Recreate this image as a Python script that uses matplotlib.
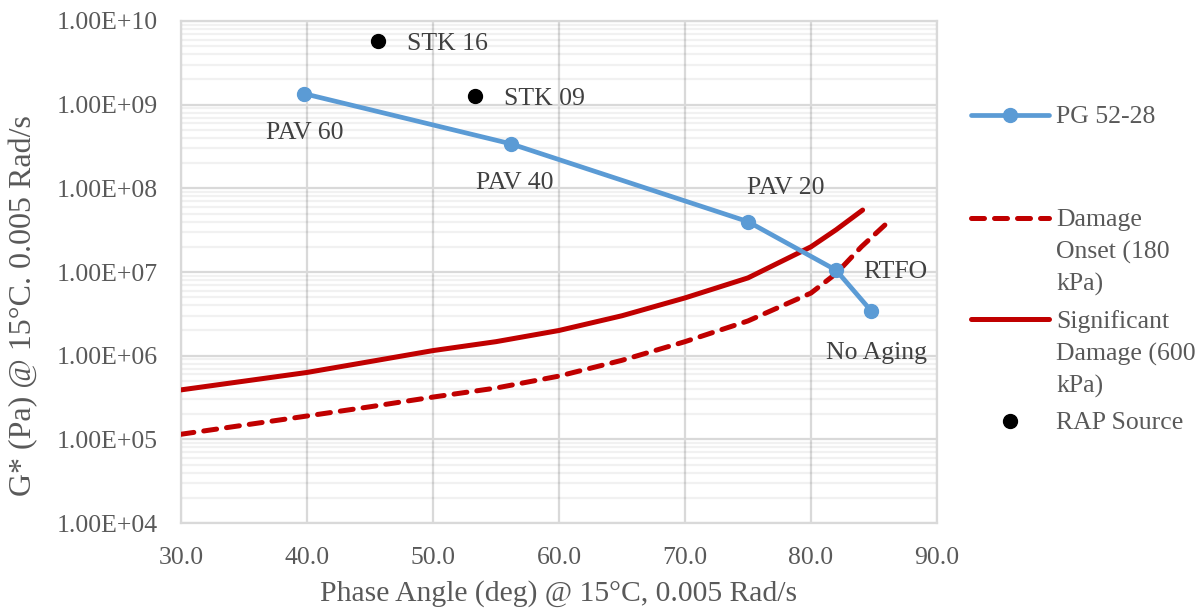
import numpy as np
import matplotlib
matplotlib.use("Agg")
import matplotlib.pyplot as plt
from matplotlib.ticker import FuncFormatter, LogLocator, MultipleLocator

plt.rcParams['font.family'] = ['Liberation Serif', 'DejaVu Serif']

# PG 52-28 aging states
pg_phase = [39.8, 56.2, 75.0, 82.0, 84.8]
pg_gstar = [1.35e9, 3.4e8, 4.0e7, 1.05e7, 3.4e6]
pg_labels = ['PAV 60', 'PAV 40', 'PAV 20', 'RTFO', 'No Aging']

# RAP sources
rap_phase = [45.6, 53.3]
rap_gstar = [5.8e9, 1.27e9]
rap_labels = ['STK 16', 'STK 09']

# Glover-Rowe damage curves
onset_phase = [30, 40, 45, 50, 55, 60, 65, 70, 75, 80, 82, 84, 86]
onset_gstar = [1.15e5, 1.9e5, 2.45e5, 3.2e5, 4.1e5, 5.7e5, 8.8e5, 1.47e6,
               2.6e6, 5.6e6, 9.6e6, 2.0e7, 3.8e7]
sig_phase = [30, 40, 45, 50, 55, 60, 65, 70, 75, 80, 82, 84.1]
sig_gstar = [3.9e5, 6.3e5, 8.5e5, 1.15e6, 1.47e6, 2.0e6, 3.0e6, 4.9e6,
             8.5e6, 2.0e7, 3.2e7, 5.5e7]

blue = '#5B9BD5'
red = '#C00000'
txt = '#595959'

fig = plt.figure(figsize=(12.04, 6.14), dpi=100)
ax = fig.add_axes([0.1503, 0.1482, 0.6279, 0.8176])

ax.plot(pg_phase, pg_gstar, color=blue, lw=3.4, marker='o', ms=10, zorder=4,
        label='PG 52-28\n\n', solid_capstyle='round')
ax.plot(onset_phase, onset_gstar, color=red, lw=3.6, ls=(0, (2.6, 2.0)),
        dash_capstyle='round', zorder=3, label='Damage\nOnset (180\nkPa)')
ax.plot(sig_phase, sig_gstar, color=red, lw=3.6, zorder=3,
        label='Significant\nDamage (600\nkPa)', solid_capstyle='round')
ax.plot(rap_phase, rap_gstar, ls='none', marker='o', ms=10, color='black',
        zorder=5, label='RAP Source')

pg_offsets = [(0, -39), (4, -39), (38, 34), (59, -2), (5, -42)]
for x, y, s, off in zip(pg_phase, pg_gstar, pg_labels, pg_offsets):
    ax.annotate(s, (x, y), xytext=off, textcoords='offset pixels',
                ha='center', va='center', fontsize=18.5, color='#404040')
for x, y, s in zip(rap_phase, rap_gstar, rap_labels):
    ax.annotate(s, (x, y), xytext=(29, -3), textcoords='offset pixels',
                ha='left', va='center', fontsize=18.5, color='#404040')

ax.set_yscale('log')
ax.set_ylim(1e4, 1e10)
ax.set_xlim(30, 90)
ax.xaxis.set_major_locator(MultipleLocator(10))
ax.xaxis.set_major_formatter(FuncFormatter(lambda v, p: f'{v:.1f}'))
ax.yaxis.set_major_locator(LogLocator(base=10, numticks=10))
ax.yaxis.set_minor_locator(LogLocator(base=10, subs=np.arange(2, 10), numticks=20))
ax.yaxis.set_minor_formatter(plt.NullFormatter())

def sci(v, p):
    e = int(round(np.log10(v)))
    sign = '+' if e >= 0 else '-'
    return f'1.00E{sign}{abs(e):02d}'
ax.yaxis.set_major_formatter(FuncFormatter(sci))

ax.grid(True, which='major', axis='both', color='#D9D9D9', lw=1.6)
# translucent so the minor lines don't wash out the vertical grid
ax.grid(True, which='minor', axis='y', color='black', alpha=0.055, lw=1.6)
ax.set_axisbelow(True)
for s in ax.spines.values():
    s.set_color('#D9D9D9')
    s.set_linewidth(1.6)
ax.tick_params(which='both', length=0, labelsize=18.5, colors=txt)
ax.tick_params(axis='y', pad=16.5)
ax.tick_params(axis='x', pad=17)

ax.set_xlabel('Phase Angle (deg) @ 15°C, 0.005 Rad/s', fontsize=21.3, color=txt, labelpad=8)
ax.set_ylabel('G* (Pa) @ 15°C. 0.005 Rad/s', fontsize=23, color=txt)
ax.yaxis.set_label_coords(-0.189, 0.434)

leg = ax.legend(loc='upper left', bbox_to_anchor=(1.032, 0.851), frameon=False,
                fontsize=18.5, labelcolor=txt, handlelength=3.03, handletextpad=0.27,
                labelspacing=0.54, borderaxespad=0)
for t in leg.get_texts():
    t.set_linespacing(1.54)
leg.get_texts()[0].set_linespacing(1.68)
# keep each handle next to the first line of its label
for row in leg._legend_handle_box.get_children()[0].get_children():
    row.align = 'top'

fig.savefig('out.png', dpi=100)
